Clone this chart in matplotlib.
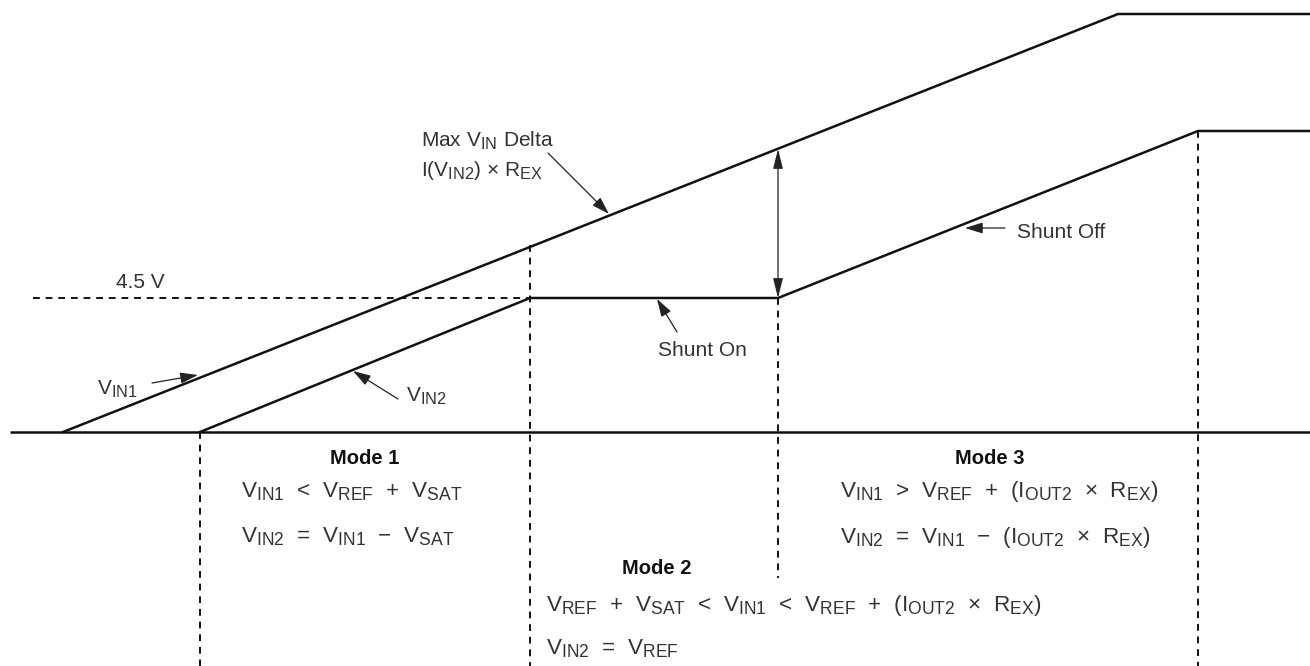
import matplotlib.pyplot as plt
import matplotlib._mathtext as _mt

plt.rcParams['font.family'] = ['Liberation Sans', 'DejaVu Sans']
plt.rcParams['mathtext.default'] = 'regular'
# the drawing uses only slightly smaller "subscripts"
_mt.SHRINK_FACTOR = 0.78

# --- data (diagram units, y measured downward like the original drawing) ---
base_x = [10, 1310]
base_y = [432, 432]

vin1_x = [63, 1118, 1310]
vin1_y = [432, 14, 14]

vin2_x = [200, 530, 778, 1198, 1310]
vin2_y = [432, 298, 298, 131, 131]

level_45_x = [33, 530]
level_45_y = [298, 298]

# dashed mode boundaries: (x, top, bottom)
bounds_x = [200, 530, 778, 1198]
bounds_top = [432, 245, 298, 131]
bounds_bot = [666, 666, 578, 666]

ink = '#111111'
txt = '#333333'

fig = plt.figure(figsize=(13.1, 6.66), dpi=100)
ax = fig.add_axes([0, 0, 1, 1])
ax.set_xlim(0, 1310)
ax.set_ylim(666, 0)
ax.axis('off')

ax.plot(base_x, base_y, color=ink, lw=1.8, solid_capstyle='butt')
ax.plot(vin1_x, vin1_y, color=ink, lw=1.8)
ax.plot(vin2_x, vin2_y, color=ink, lw=1.8)
ax.plot(level_45_x, level_45_y, color=ink, lw=1.4, linestyle=(0, (3.5, 3)))
for x, t, b in zip(bounds_x, bounds_top, bounds_bot):
    ax.plot([x, x], [t, b], color=ink, lw=1.4, linestyle=(0, (3.5, 3)))

arrow = dict(arrowstyle='-|>,head_length=0.9,head_width=0.28', color='#222222',
             lw=0.9, mutation_scale=12, shrinkA=0, shrinkB=0)

# pointer arrows
ax.annotate('', xy=(609, 214), xytext=(548, 153), arrowprops=arrow)
ax.annotate('', xy=(198, 375), xytext=(152, 383), arrowprops=arrow)
ax.annotate('', xy=(353, 371), xytext=(398, 399), arrowprops=arrow)
ax.annotate('', xy=(657, 299), xytext=(677, 332), arrowprops=arrow)
ax.annotate('', xy=(965, 228), xytext=(1005, 228), arrowprops=arrow)
# max delta double arrow
ax.annotate('', xy=(778, 149), xytext=(778, 298),
            arrowprops=dict(arrowstyle='<|-|>,head_length=1.0,head_width=0.25',
                            color='#222222', lw=0.9, mutation_scale=12,
                            shrinkA=0, shrinkB=0))

fs = 15
ax.text(116, 283, '4.5 V', fontsize=fs, color=txt, va='center')
ax.text(421, 141, 'Max $V_{IN}$ Delta', fontsize=fs, color=txt, va='center')
ax.text(421, 171, 'I($V_{IN2}$) × $R_{EX}$', fontsize=fs, color=txt, va='center')
ax.text(97, 389, '$V_{IN1}$', fontsize=fs, color=txt, va='center')
ax.text(406, 396, '$V_{IN2}$', fontsize=fs, color=txt, va='center')
ax.text(658, 351, 'Shunt On', fontsize=fs, color=txt, va='center')
ax.text(1017, 232, 'Shunt Off', fontsize=fs, color=txt, va='center')

fm = 16.2
ft = 14.5
ax.text(365, 458, 'Mode 1', fontsize=ft, fontweight='bold', color=ink,
        ha='center', va='center')
ax.text(241, 492, '$V_{IN1}$  <  $V_{REF}$  +  $V_{SAT}$', fontsize=fm,
        color=txt, va='center')
ax.text(241, 537, '$V_{IN2}$  =  $V_{IN1}$  −  $V_{SAT}$', fontsize=fm,
        color=txt, va='center')

ax.text(990, 458, 'Mode 3', fontsize=ft, fontweight='bold', color=ink,
        ha='center', va='center')
ax.text(840, 492, '$V_{IN1}$  >  $V_{REF}$  +  ($I_{OUT2}$  ×  $R_{EX}$)',
        fontsize=fm, color=txt, va='center')
ax.text(840, 537, '$V_{IN2}$  =  $V_{IN1}$  −  ($I_{OUT2}$  ×  $R_{EX}$)',
        fontsize=fm, color=txt, va='center')

ax.text(657, 569, 'Mode 2', fontsize=ft, fontweight='bold', color=ink,
        ha='center', va='center')
ax.text(546, 606,
        '$V_{REF}$  +  $V_{SAT}$  <  $V_{IN1}$  <  $V_{REF}$  +  ($I_{OUT2}$  ×  $R_{EX}$)',
        fontsize=fm, color=txt, va='center')
ax.text(546, 649, '$V_{IN2}$  =  $V_{REF}$', fontsize=fm, color=txt, va='center')

fig.savefig('out.png', dpi=100, facecolor='white')
